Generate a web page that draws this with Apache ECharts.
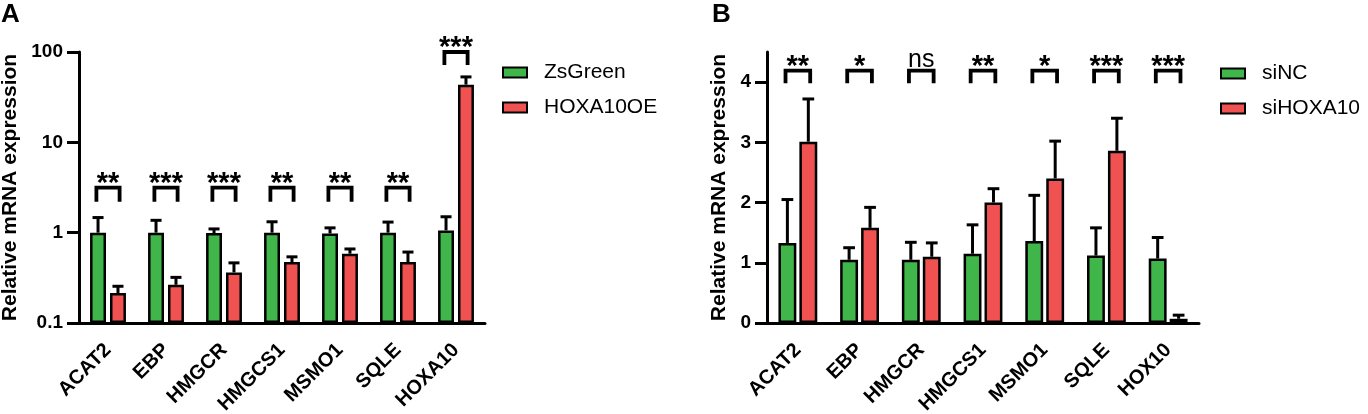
<!DOCTYPE html>
<html>
<head>
<meta charset="utf-8">
<script src="https://cdn.jsdelivr.net/npm/echarts@6/dist/echarts.min.js"></script>
<style>html,body{margin:0;padding:0;background:#fff}#c{width:1368px;height:414px}</style>
</head>
<body>
<div id="c"></div>
<script>
// ---------- Data ----------
const catsA = ['ACAT2','EBP','HMGCR','HMGCS1','MSMO1','SQLE','HOXA10'];
const zsGreen = [1.0, 1.0, 0.99, 1.0, 0.98, 1.0, 1.06];
const zsGreenSD = [0.47, 0.37, 0.11, 0.32, 0.15, 0.31, 0.44];
const hoxOE = [0.215, 0.265, 0.363, 0.473, 0.585, 0.473, 43.5];
const hoxOESD = [0.04, 0.055, 0.1, 0.067, 0.075, 0.137, 9.5];
const sigA = ['**','***','***','**','**','**','***'];
const bracketA = [[2.2,3.15],[2.2,3.15],[2.2,3.15],[2.2,3.15],[2.2,3.15],[2.2,3.15],[72,100]];
const yTicksA = [0.1, 1, 10, 100];

const catsB = ['ACAT2','EBP','HMGCR','HMGCS1','MSMO1','SQLE','HOX10'];
const siNC = [1.33, 1.05, 1.05, 1.15, 1.36, 1.12, 1.07];
const siNCSD = [0.72, 0.2, 0.29, 0.48, 0.76, 0.46, 0.35];
const siHOX = [3.01, 1.58, 1.1, 2.0, 2.4, 2.86, 0.07];
const siHOXSD = [0.71, 0.34, 0.23, 0.23, 0.62, 0.54, 0.06];
const sigB = ['**','*','ns','**','*','***','***'];
const bracketB = [[3.98,4.19],[3.98,4.19],[3.98,4.19],[3.98,4.19],[3.98,4.19],[3.98,4.19],[3.98,4.19]];
const yTicksB = [0, 1, 2, 3, 4];

// ---------- Styles ----------
const FONT = '"Liberation Sans", Arial, Helvetica, sans-serif';
const GREEN = '#3fb54a';
const RED = '#f05252';
const BW_A = 0.275, GAP_A = 0.25;
const BW_B = 0.29, GAP_B = 0.17;

function errRender(sign, wFrac, gFrac) {
  return function (params, api) {
    const i = api.value(0), m = api.value(1), sd = api.value(2);
    const band = api.size([1, 0], [i, m])[0];
    const w = band * wFrac;
    const off = sign * (w + w * gFrac) / 2;
    const p0 = api.coord([i, m]);
    const p1 = api.coord([i, m + sd]);
    const x = p0[0] + off;
    const cap = band * 0.095;
    return {
      type: 'group',
      children: [
        { type: 'line', shape: { x1: x, y1: p0[1], x2: x, y2: p1[1] }, style: { stroke: '#000', lineWidth: 3 } },
        { type: 'line', shape: { x1: x - cap, y1: p1[1], x2: x + cap, y2: p1[1] }, style: { stroke: '#000', lineWidth: 3 } }
      ]
    };
  };
}

function bracketRender(sigs) {
  return function (params, api) {
    const i = api.value(0), lo = api.value(1), hi = api.value(2);
    const pLo = api.coord([i, lo]);
    const pHi = api.coord([i, hi]);
    const band = api.size([1, 0], [i, lo])[0];
    const half = band * 0.2;
    const x = pLo[0];
    const s = sigs[params.dataIndex];
    const isStar = s.indexOf('*') >= 0;
    return {
      type: 'group',
      children: [
        { type: 'polyline', shape: { points: [[x - half, pLo[1]], [x - half, pHi[1]], [x + half, pHi[1]], [x + half, pLo[1]]] },
          style: { stroke: '#000', lineWidth: 3.8, fill: null, lineJoin: 'miter' } },
        { type: 'text', style: { text: s, x: x, y: pHi[1] - (isStar ? 4 : 11), align: 'center', verticalAlign: 'middle',
          fontSize: isStar ? 29 : 25, fontWeight: isStar ? 'bold' : 'normal', fontFamily: FONT, fill: '#000' } }
      ]
    };
  };
}

function errData(vals, sds) { return vals.map((v, i) => [i, v, sds[i]]); }
function brData(br) { return br.map((b, i) => [i, b[0], b[1]]); }

const axisLineStyle = { lineStyle: { color: '#000', width: 3 } };
const xAxisCommon = {
  type: 'category',
  axisLine: axisLineStyle,
  axisTick: { alignWithLabel: true, length: 10, lineStyle: { color: '#000', width: 3 } },
  axisLabel: { rotate: 45, interval: 0, margin: 24, color: '#000', fontSize: 20, fontWeight: 'bold', fontFamily: FONT },
  splitLine: { show: false }
};

const chart = echarts.init(document.getElementById('c'), null, { renderer: 'canvas' });
chart.setOption({
  animation: false,
  backgroundColor: '#fff',
  title: [
    { text: 'A', left: -4, top: -3, textStyle: { fontSize: 26, fontWeight: 'bold', fontFamily: FONT, color: '#000' } },
    { text: 'B', left: 707, top: -3, textStyle: { fontSize: 26, fontWeight: 'bold', fontFamily: FONT, color: '#000' } }
  ],
  legend: [
    { data: ['ZsGreen', 'HOXA10OE'], orient: 'vertical', left: 497, top: 57, itemWidth: 24, itemHeight: 10, itemGap: 14,
      icon: 'rect', itemStyle: { borderColor: '#000', borderWidth: 2 },
      textStyle: { fontSize: 21, fontFamily: FONT, color: '#000', lineHeight: 21, padding: [0, 0, 0, 12] } },
    { data: ['siNC', 'siHOXA10'], orient: 'vertical', left: 1215, top: 58, itemWidth: 24, itemHeight: 10, itemGap: 14,
      icon: 'rect', itemStyle: { borderColor: '#000', borderWidth: 2 },
      textStyle: { fontSize: 21, fontFamily: FONT, color: '#000', lineHeight: 21, padding: [0, 0, 0, 12] } }
  ],
  grid: [
    { left: 79, right: 883, top: 52, bottom: 91, containLabel: false, outerBoundsMode: 'none' },
    { left: 767, right: 169, top: 52, bottom: 91, containLabel: false, outerBoundsMode: 'none' }
  ],
  xAxis: [
    Object.assign({}, xAxisCommon, { gridIndex: 0, data: catsA }),
    Object.assign({}, xAxisCommon, { gridIndex: 1, data: catsB })
  ],
  yAxis: [
    { gridIndex: 0, type: 'log', logBase: 10, min: 0.1, max: 100, startValue: 0.1,
      name: 'Relative mRNA expression', nameLocation: 'middle', nameGap: 58,
      nameTextStyle: { fontSize: 21, fontWeight: 'bold', fontFamily: FONT, color: '#000' },
      axisLine: Object.assign({ show: true }, axisLineStyle),
      axisTick: { show: true, length: 12, lineStyle: { color: '#000', width: 3 } },
      axisLabel: { margin: 16, color: '#000', fontSize: 19, fontWeight: 'bold', fontFamily: FONT,
        formatter: function (v) { const t = yTicksA.find(x => Math.abs(x - v) / x < 1e-6); return t === undefined ? '' : String(t); } },
      splitLine: { show: false }, minorTick: { show: false } },
    { gridIndex: 1, type: 'value', min: 0, max: 4.5, interval: 1,
      name: 'Relative mRNA expression', nameLocation: 'middle', nameGap: 37,
      nameTextStyle: { fontSize: 21, fontWeight: 'bold', fontFamily: FONT, color: '#000' },
      axisLine: Object.assign({ show: true }, axisLineStyle),
      axisTick: { show: true, length: 12, customValues: yTicksB, lineStyle: { color: '#000', width: 3 } },
      axisLabel: { margin: 16, customValues: yTicksB, color: '#000', fontSize: 19, fontWeight: 'bold', fontFamily: FONT },
      splitLine: { show: false } }
  ],
  series: [
    { name: 'ZsGreen', type: 'bar', xAxisIndex: 0, yAxisIndex: 0, data: zsGreen, barWidth: (BW_A * 100) + '%', barGap: (GAP_A * 100) + '%',
      itemStyle: { color: GREEN, borderColor: '#000', borderWidth: 2.5 }, z: 2 },
    { name: 'HOXA10OE', type: 'bar', xAxisIndex: 0, yAxisIndex: 0, data: hoxOE, barWidth: (BW_A * 100) + '%', barGap: (GAP_A * 100) + '%',
      itemStyle: { color: RED, borderColor: '#000', borderWidth: 2.5 }, z: 2 },
    { type: 'custom', xAxisIndex: 0, yAxisIndex: 0, renderItem: errRender(-1, BW_A, GAP_A), data: errData(zsGreen, zsGreenSD), encode: { x: 0, y: 1 }, z: 3, silent: true },
    { type: 'custom', xAxisIndex: 0, yAxisIndex: 0, renderItem: errRender(1, BW_A, GAP_A), data: errData(hoxOE, hoxOESD), encode: { x: 0, y: 1 }, z: 3, silent: true },
    { type: 'custom', xAxisIndex: 0, yAxisIndex: 0, renderItem: bracketRender(sigA), data: brData(bracketA), encode: { x: 0, y: 1 }, z: 4, silent: true },

    { name: 'siNC', type: 'bar', xAxisIndex: 1, yAxisIndex: 1, data: siNC, barWidth: (BW_B * 100) + '%', barGap: (GAP_B * 100) + '%',
      itemStyle: { color: GREEN, borderColor: '#000', borderWidth: 2.5 }, z: 2 },
    { name: 'siHOXA10', type: 'bar', xAxisIndex: 1, yAxisIndex: 1, data: siHOX, barWidth: (BW_B * 100) + '%', barGap: (GAP_B * 100) + '%',
      itemStyle: { color: RED, borderColor: '#000', borderWidth: 2.5 }, z: 2 },
    { type: 'custom', xAxisIndex: 1, yAxisIndex: 1, renderItem: errRender(-1, BW_B, GAP_B), data: errData(siNC, siNCSD), encode: { x: 0, y: 1 }, z: 3, silent: true },
    { type: 'custom', xAxisIndex: 1, yAxisIndex: 1, renderItem: errRender(1, BW_B, GAP_B), data: errData(siHOX, siHOXSD), encode: { x: 0, y: 1 }, z: 3, silent: true },
    { type: 'custom', xAxisIndex: 1, yAxisIndex: 1, renderItem: bracketRender(sigB), data: brData(bracketB), encode: { x: 0, y: 1 }, z: 4, silent: true }
  ]
});
</script>
</body>
</html>
